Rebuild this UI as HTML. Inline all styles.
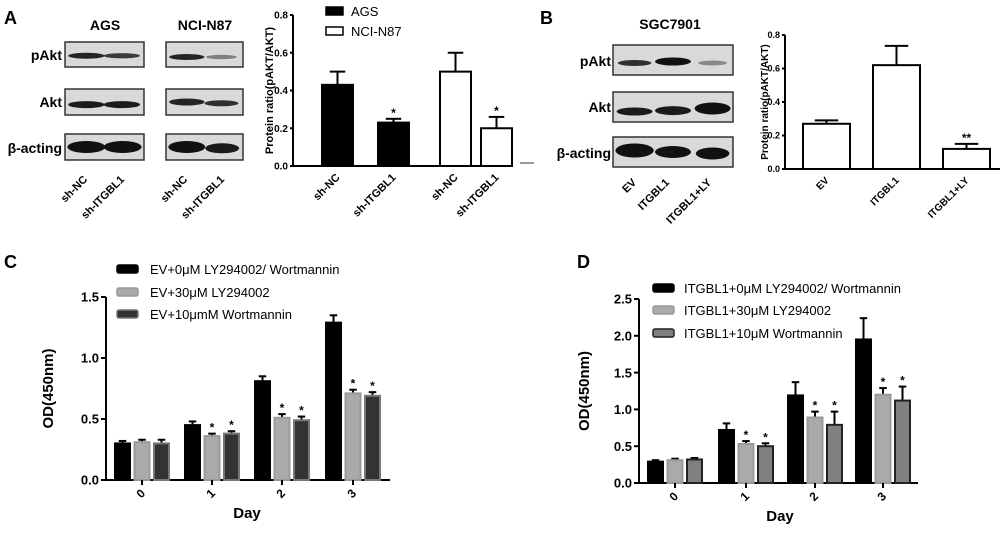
<!DOCTYPE html>
<html><head><meta charset="utf-8"><style>
body{margin:0;background:#fff;}
svg{display:block;font-family:"Liberation Sans",Arial,sans-serif;font-weight:bold;}
</style></head><body>
<svg id="fig" width="1000" height="533" viewBox="0 0 1000 533" xmlns="http://www.w3.org/2000/svg">
<g id="blots"></g>
<g id="charts"></g>
</svg>
<script>
// Panel A data
const aCategories = ["sh-NC","sh-ITGBL1","sh-NC","sh-ITGBL1"];
const aValues = [0.43,0.23,0.50,0.20];
const aErrors = [0.50,0.25,0.60,0.26];
const aSig = ["","*","","*"];
const aTicks = ["0.0","0.2","0.4","0.6","0.8"];
// Panel B data
const bCategories = ["EV","ITGBL1","ITGBL1+LY"];
const bValues = [0.27,0.62,0.12];
const bErrors = [0.29,0.735,0.15];
const bSig = ["","","**"];
const bTicks = ["0.0","0.2","0.4","0.6","0.8"];
// Panel C data
const cDays = ["0","1","2","3"];
const cControl = [0.30,0.45,0.81,1.29];
const cControlErr = [0.32,0.48,0.85,1.35];
const cLY = [0.31,0.36,0.51,0.71];
const cLYErr = [0.33,0.38,0.54,0.74];
const cWort = [0.30,0.38,0.49,0.69];
const cWortErr = [0.33,0.40,0.52,0.72];
const cSig = ["","*","*","*"];
const cTicks = ["0.0","0.5","1.0","1.5"];
// Panel D data
const dDays = ["0","1","2","3"];
const dControl = [0.29,0.72,1.19,1.95];
const dControlErr = [0.31,0.81,1.37,2.24];
const dLY = [0.31,0.53,0.89,1.20];
const dLYErr = [0.33,0.57,0.97,1.29];
const dWort = [0.32,0.50,0.79,1.12];
const dWortErr = [0.34,0.54,0.97,1.31];
const dSig = ["","*","*","*"];
const dTicks = ["0.0","0.5","1.0","1.5","2.0","2.5"];

const NS="http://www.w3.org/2000/svg";
const charts=document.getElementById('charts');
const blots=document.getElementById('blots');
function mk(tag,attrs,parent,txt){const e=document.createElementNS(NS,tag);for(const k in attrs)e.setAttribute(k,attrs[k]);if(txt!==undefined)e.textContent=txt;parent.appendChild(e);return e;}

function label(x,y,t,size,anchor,name,parent,rot){
  const e=mk('text',{x:x,y:y,'font-size':size,'text-anchor':anchor||'start'},parent||charts,t);
  if(rot!==undefined)e.setAttribute('transform','rotate('+rot+' '+x+' '+y+')');
  
  
  return e;
}
label(4,24,"A",18,'start','panel-a-label');
label(540,24,"B",18,'start','panel-b-label');
label(4,268,"C",18,'start','panel-c-label');
label(577,268,"D",18,'start','panel-d-label');

function blot(x,y,w,h,bands,name){
  const g=mk('g',{},blots);
  
  
  mk('rect',{x:x,y:y,width:w,height:h,fill:'#d9d9d9',stroke:'#333','stroke-width':1.5},g);
  bands.forEach(b=>{mk('ellipse',{cx:x+b[0]*w,cy:y+b[1]*h,rx:b[2]*w,ry:b[3],fill:'#111','fill-opacity':b[4]},g);});
}
blot(65,42,79,25,[[0.27,0.55,0.23,3,0.9],[0.72,0.55,0.23,2.6,0.8]],'ags-pakt-blot');
blot(65,89,79,26,[[0.27,0.6,0.23,3.5,0.95],[0.72,0.6,0.23,3.5,0.95]],'ags-akt-blot');
blot(65,134,79,26,[[0.27,0.5,0.24,6,1],[0.73,0.5,0.24,6,1]],'ags-actin-blot');
blot(166,42,77,25,[[0.27,0.6,0.23,3,0.9],[0.72,0.6,0.2,2.2,0.45]],'nci-pakt-blot');
blot(166,89,77,26,[[0.27,0.5,0.23,3.5,0.9],[0.72,0.55,0.22,3,0.85]],'nci-akt-blot');
blot(166,134,77,26,[[0.27,0.5,0.24,6,1],[0.73,0.55,0.22,5,0.95]],'nci-actin-blot');
blot(613,45,120,30,[[0.18,0.6,0.14,3,0.85],[0.5,0.55,0.15,4,1],[0.83,0.6,0.12,2.5,0.4]],'sgc-pakt-blot');
blot(613,92,120,30,[[0.18,0.65,0.15,4,0.95],[0.5,0.62,0.15,4.5,0.95],[0.83,0.55,0.15,6,1]],'sgc-akt-blot');
blot(613,137,120,30,[[0.18,0.45,0.16,7,1],[0.5,0.5,0.15,6,1],[0.83,0.55,0.14,6,1]],'sgc-actin-blot');
mk('line',{x1:520,y1:163,x2:534,y2:163,stroke:'#333','stroke-width':1},blots);

label(105,30,"AGS",14,'middle','ags-title',blots);
label(205,30,"NCI-N87",14,'middle','nci-title',blots);
label(670,29,"SGC7901",14,'middle','sgc-title',blots);
[["pAkt",60],["Akt",107],["β-acting",153]].forEach(r=>label(62,r[1],r[0],14,'end','row-label-'+r[0].toLowerCase(),blots));
[["pAkt",66],["Akt",112],["β-acting",158]].forEach(r=>label(611,r[1],r[0],14,'end','b-row-label-'+r[0].toLowerCase(),blots));
[[88,"sh-NC"],[125,"sh-ITGBL1"],[188,"sh-NC"],[225,"sh-ITGBL1"]].forEach(l=>label(l[0],180,l[1],11,'end','blot-lane-label',blots,-45));
[[637,"EV"],[670,"ITGBL1"],[712,"ITGBL1+LY"]].forEach(l=>label(l[0],183,l[1],11,'end','blot-lane-label',blots,-45));

function axis(ax,y0,yTop,maxV,ticks,xEnd,title,titleX,prefix,tf,tl,ttf){
  const sy=v=>y0-(v/maxV)*(y0-yTop);
  const g=mk('g',{},charts);
  
  
  mk('line',{x1:ax,y1:y0,x2:ax,y2:yTop,stroke:'#000','stroke-width':2},g);
  ticks.forEach((t,i)=>{const v=maxV*i/(ticks.length-1);const y=sy(v);
    mk('line',{x1:ax-tl,y1:y,x2:ax,y2:y,stroke:'#000','stroke-width':2},g);
    label(ax-tl-2,y+tf*0.36,t,tf,'end',prefix+'-y-tick-label',g);});
  const xa=mk('line',{x1:ax,y1:y0,x2:xEnd,y2:y0,stroke:'#000','stroke-width':2},charts);
  
  
  label(titleX,(y0+yTop)/2,title,ttf,'middle',prefix+'-y-axis-title',charts,-90);
  return sy;
}
function bar(x,w,v,err,sy,y0,fill,stroke,name,sig){
  const g=mk('g',{},charts);
  
  
  const ye=sy(err),yv=sy(v);
  mk('line',{x1:x+w/2,y1:yv,x2:x+w/2,y2:ye,stroke:'#000','stroke-width':2},g);
  mk('line',{x1:x+w/2-w*0.25,y1:ye,x2:x+w/2+w*0.25,y2:ye,stroke:'#000','stroke-width':2},g);
  mk('rect',{x:x,y:yv,width:w,height:y0-yv,fill:fill,stroke:stroke,'stroke-width':2},g);
  if(sig)label(x+w/2,ye-2,sig,12,'middle',name+'-significance',g);
}

// Panel A chart
(function(){
  const sy=axis(293,166,15,0.8,aTicks,513,"Protein ratio(pAKT/AKT)",273,'a',10,3,11);
  const xs=[322,378,440,481],w=31;
  aCategories.forEach((c,i)=>{
    const black=i<2;
    bar(xs[i],w,aValues[i],aErrors[i],sy,166,black?'#000':'#fff','#000','a-bar-'+i,aSig[i]);
    label(xs[i]+w/2+3,178,c,11,'end','a-x-label',charts,-45);
  });
  const l1=mk('rect',{x:326,y:7,width:17,height:8,fill:'#000',stroke:'#000','stroke-width':1.5},charts);
  
  const l2=mk('rect',{x:326,y:27,width:17,height:8,fill:'#fff',stroke:'#000','stroke-width':1.5},charts);
  
  const t1=label(351,16,"AGS",13,'start','legend-ags',charts);t1.setAttribute('font-weight','normal');
  const t2=label(351,36,"NCI-N87",13,'start','legend-nci',charts);t2.setAttribute('font-weight','normal');
})();

// Panel B chart
(function(){
  const sy=axis(785,169,35,0.8,bTicks,1000,"Protein ratio(pAKT/AKT)",768,'b',9,3,10);
  const xs=[803,873,943],w=47;
  bCategories.forEach((c,i)=>{
    bar(xs[i],w,bValues[i],bErrors[i],sy,169,'#fff','#000','b-bar-'+i,bSig[i]);
    label(xs[i]+w/2+3,181,c,10,'end','b-x-label',charts,-45);
  });
})();

function grouped(prefix,ax,y0,yTop,maxV,ticks,xEnd,centers,days,series,errs,sig,colors,legendText,legX,legY,textX,dayX,titleX){
  const sy=axis(ax,y0,yTop,maxV,ticks,xEnd,"OD(450nm)",titleX,prefix,13,5,15);
  const w=15,gap=19.5;
  days.forEach((d,di)=>{
    const cx=centers[di];
    series.forEach((s,si)=>{
      const x=cx+(si-1)*gap-w/2;
      bar(x,w,s[di],errs[si][di],sy,y0,colors[si][0],colors[si][1],prefix+'-bar-day'+d+'-s'+si,si>0?sig[di]:'');
    });
    mk('line',{x1:cx,y1:y0,x2:cx,y2:y0+5,stroke:'#000','stroke-width':2},charts);
    label(cx+4,y0+14,d,12,'end',prefix+'-x-tick-label',charts,-45);
  });
  label(dayX,y0+38,"Day",15,'middle',prefix+'-x-axis-title',charts);
  legendText.forEach((t,i)=>{
    const r=mk('rect',{x:legX,y:legY[i]-4,width:21,height:8,rx:2,fill:colors[i][0],stroke:colors[i][1],'stroke-width':1.5},charts);
    
    
    const tt=label(textX,legY[i]+5,t,13,'start',prefix+'-legend-entry-'+i,charts);
    tt.setAttribute('font-weight','normal');
  });
}
grouped('c',106,480,297,1.5,cTicks,390,[142,212,282,353],cDays,[cControl,cLY,cWort],[cControlErr,cLYErr,cWortErr],cSig,
  [['#000','#000'],['#aaa','#999'],['#333','#777']],
  ["EV+0μM LY294002/ Wortmannin","EV+30μM LY294002","EV+10μmM Wortmannin"],117,[269,292,314],150,247,53);
grouped('d',639,483,299,2.5,dTicks,918,[675,746,815,883],dDays,[dControl,dLY,dWort],[dControlErr,dLYErr,dWortErr],dSig,
  [['#000','#000'],['#aaa','#999'],['#808080','#222']],
  ["ITGBL1+0μM LY294002/ Wortmannin","ITGBL1+30μM LY294002","ITGBL1+10μM Wortmannin"],653,[288,310,333],684,780,589);
</script>
</body></html>
